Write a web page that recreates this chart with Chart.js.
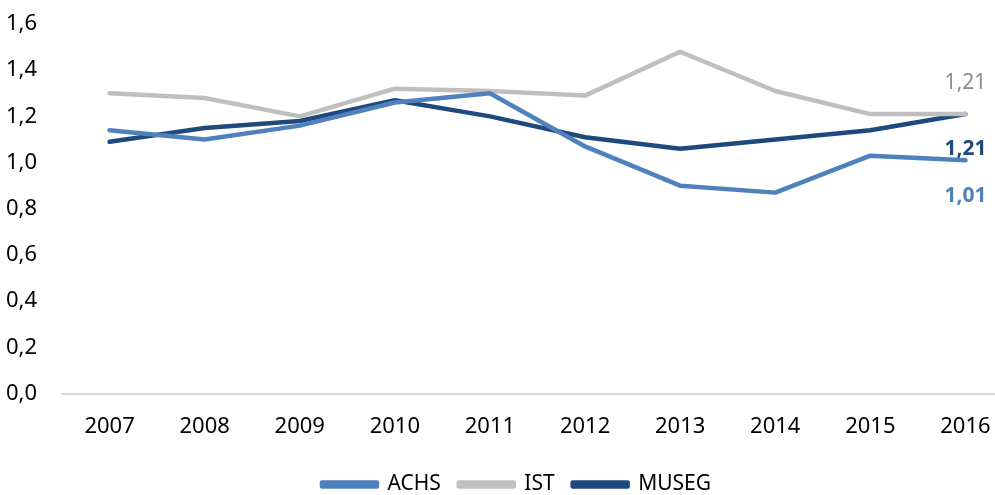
<!DOCTYPE html>
<html>
<head>
<meta charset="utf-8">
<script src="https://cdn.jsdelivr.net/npm/chart.js@4"></script>
<style>
  html, body { margin: 0; padding: 0; background: #fff; overflow: hidden; }
  #wrap { width: 1013px; height: 495px; }
</style>
</head>
<body>
<div id="wrap"><canvas id="lineChart"></canvas></div>
<script>
const years = ['2007', '2008', '2009', '2010', '2011', '2012', '2013', '2014', '2015', '2016'];
const achs = [1.14, 1.10, 1.16, 1.26, 1.30, 1.07, 0.90, 0.87, 1.03, 1.01];
const ist = [1.30, 1.28, 1.20, 1.32, 1.31, 1.29, 1.48, 1.31, 1.21, 1.21];
const museg = [1.09, 1.15, 1.18, 1.27, 1.20, 1.11, 1.06, 1.10, 1.14, 1.21];

const fmt = v => v.toFixed(2).replace('.', ',');

// label on the last point of each line
const endLabels = {
  id: 'endLabels',
  afterDatasetsDraw(chart) {
    const ctx = chart.ctx;
    chart.data.datasets.forEach((ds, i) => {
      const meta = chart.getDatasetMeta(i);
      const pt = meta.data[meta.data.length - 1];
      const val = ds.data[ds.data.length - 1];
      ctx.save();
      ctx.font = ds.endLabel.weight + ' 21px "Noto Sans"';
      ctx.fillStyle = ds.endLabel.color;
      ctx.textAlign = 'center';
      ctx.textBaseline = 'middle';
      ctx.fillText(fmt(val), pt.x, pt.y + ds.endLabel.dy);
      ctx.restore();
    });
  }
};

// nudge the legend a little to the right, like the original
const legendShift = {
  id: 'legendShift',
  afterLayout(chart) {
    chart.legend.left += 10;
    chart.legend.right += 10;
  }
};

const lineData = {
  labels: years,
  datasets: [
    {
      label: 'ACHS',
      data: achs,
      borderColor: '#4F81BD',
      backgroundColor: '#4F81BD',
      endLabel: { color: '#4F81BD', weight: 'bold', dy: 36 }
    },
    {
      label: 'IST',
      data: ist,
      borderColor: '#BFBFBF',
      backgroundColor: '#BFBFBF',
      endLabel: { color: '#8C8C8C', weight: 'normal', dy: -31 }
    },
    {
      label: 'MUSEG',
      data: museg,
      borderColor: '#1F497D',
      backgroundColor: '#1F497D',
      endLabel: { color: '#1F497D', weight: 'bold', dy: 35 }
    }
  ]
};

new Chart(document.getElementById('lineChart'), {
  type: 'line',
  data: lineData,
  plugins: [endLabels, legendShift],
  options: {
    responsive: true,
    maintainAspectRatio: false,
    animation: false,
    layout: { padding: { top: 24, right: 0, left: 0, bottom: -10 } },
    elements: {
      line: { borderWidth: 4.5, tension: 0, borderCapStyle: 'round', borderJoinStyle: 'round' },
      point: { radius: 0 }
    },
    plugins: {
      legend: {
        position: 'bottom',
        labels: {
          boxWidth: 55,
          boxHeight: 4,
          padding: 18,
          color: '#000',
          font: { family: 'Noto Sans', size: 21 }
        }
      },
      tooltip: { enabled: false }
    },
    scales: {
      x: {
        offset: true,
        grid: { display: false, offset: true },
        border: { display: true, color: '#D9D9D9', width: 2 },
        afterFit(scale) { scale.height += 4; },
        ticks: { color: '#000', padding: 12, font: { family: 'Noto Sans', size: 22 } }
      },
      y: {
        min: 0,
        max: 1.6,
        grid: { display: false },
        border: { display: false },
        afterFit(scale) {
          scale.width = 62;
          scale.paddingTop = 0;
          scale.paddingBottom = 0;
        },
        ticks: {
          stepSize: 0.2,
          padding: 17,
          color: '#000',
          font: { family: 'Noto Sans', size: 22 },
          callback: v => v.toFixed(1).replace('.', ',')
        }
      }
    }
  }
});
</script>
</body>
</html>
